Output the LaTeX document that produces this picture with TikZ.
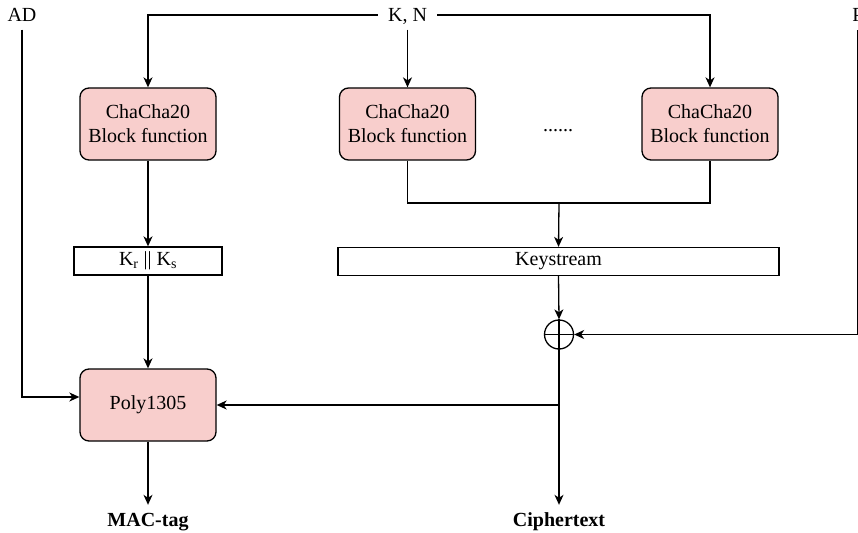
\documentclass[tikz,border=0pt]{standalone}
\usepackage{fontspec}
\setmainfont{Liberation Serif}
\usetikzlibrary{arrows.meta,calc}
\definecolor{boxfill}{HTML}{F8CECC}
\tikzset{
  lbl/.style={font=\fontsize{20}{24}\selectfont, text height=13pt, text depth=0pt,
    inner xsep=10pt, inner ysep=8pt},
  blockbox/.style={draw, line width=1.3pt, rounded corners=9pt, fill=boxfill,
    minimum width=136pt, minimum height=72pt, align=center,
    font=\fontsize{20}{24}\selectfont},
  barbox/.style={draw, line width=1.3pt, fill=white, minimum height=28pt,
    inner sep=0pt, font=\fontsize{20}{24}\selectfont},
  wire/.style={line width=1.3pt},
  arr/.style={wire, -{Stealth[length=10pt,width=9pt,inset=3pt]}},
}
\begin{document}
\begin{tikzpicture}[x=1pt,y=-1pt]
  \useasboundingbox (0,0) rectangle (858,532);

  % inputs
  \node[lbl] (ad) at (22,15) {AD};
  \node[lbl] (kn) at (407.5,15) {K, N};
  \node[lbl] (p)  at (858,15) {P};

  % ChaCha20 block functions
  \node[blockbox] (c1) at (148,124) {ChaCha20\\Block function};
  \node[blockbox] (c2) at (407.5,124) {ChaCha20\\Block function};
  \node[blockbox] (c3) at (710,124) {ChaCha20\\Block function};
  \node[font=\fontsize{20}{24}\selectfont, anchor=base] (dots) at (558,131) {......};

  % key material
  \node[barbox, minimum width=148pt] (kr) at (148,261) {K\textsubscript{r} || K\textsubscript{s}};
  \node[barbox, minimum width=441pt] (ks) at (558.5,261.5) {Keystream};

  % XOR
  \node[draw, circle, line width=1.3pt, minimum size=29pt, inner sep=0pt] (xr) at (559,334.5) {};
  \draw[wire] (xr.north) -- (xr.south) (xr.west) -- (xr.east);

  % Poly1305
  \node[blockbox] (poly) at (148,405) {Poly1305};

  % outputs
  \node[lbl, font=\bfseries\fontsize{20}{24}\selectfont] (mac) at (148,519.5) {MAC-tag};
  \node[lbl, font=\bfseries\fontsize{20}{24}\selectfont] (ct) at (559,519.5) {Ciphertext};

  \coordinate (j) at (559,203);
  \coordinate (br) at (559,405);

  % key/nonce distribution
  \draw[arr] (kn.west) -| (c1.north);
  \draw[arr] (kn.east) -| (c3.north);
  \draw[arr] (kn.south) -- (c2.north);

  % block outputs
  \draw[arr] (c1.south) -- (kr.north);
  \draw[wire] (c2.south) -- (c2.south |- j) -| (c3.south);
  \draw[arr] (j) -- (ks.north);

  % encryption
  \draw[arr] (ks.south) -- (xr.north);
  \draw[arr] (p.south) |- (xr.east);
  \draw[arr] (xr.south) -- (ct.north);

  % authentication
  \draw[arr] (kr.south) -- (poly.north);
  \draw[arr] (ad.south) |- ([yshift=8pt]poly.west);
  \draw[arr] (br) -- (poly.east);
  \draw[arr] (poly.south) -- (mac.north);
\end{tikzpicture}
\end{document}
